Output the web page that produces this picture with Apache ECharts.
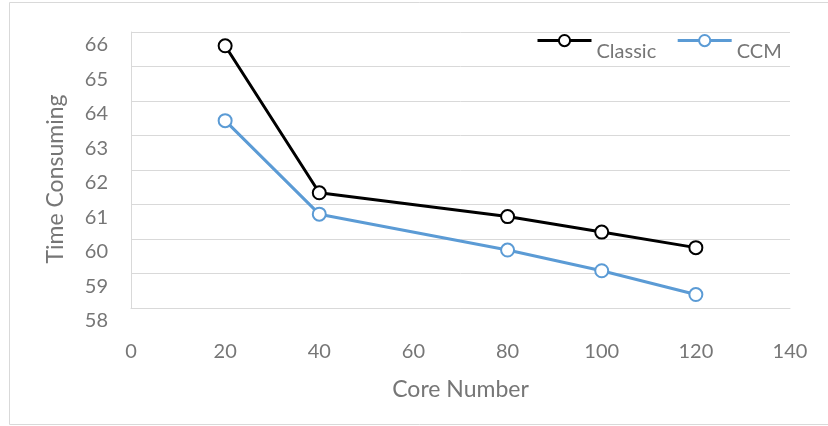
<!DOCTYPE html>
<html>
<head>
<meta charset="utf-8">
<script src="https://cdn.jsdelivr.net/npm/echarts@6/dist/echarts.min.js"></script>
<style>html,body{margin:0;padding:0;background:#fff}#c{width:828px;height:426px}</style>
</head>
<body>
<div id="c"></div>
<script>
const cores = [20, 40, 80, 100, 120];
const classic = [65.6, 61.34, 60.65, 60.2, 59.75];
const ccm = [63.43, 60.72, 59.68, 59.08, 58.39];
const seriesNames = ['Classic', 'CCM'];
const xTitle = 'Core Number';
const yTitle = 'Time Consuming';

const font = 'Lato, "Open Sans", sans-serif';
const grey = '#767676';
const chart = echarts.init(document.getElementById('c'), null, {renderer: 'canvas'});
chart.setOption({
  animation: false,
  backgroundColor: '#fff',
  graphic: [{
    type: 'rect', z: -1,
    shape: {x: 9.5, y: 2.5, width: 830, height: 422},
    style: {fill: 'none', stroke: '#d9d9d9', lineWidth: 1}
  }],
  grid: {left: 131, right: 38, top: 32, bottom: 118},
  legend: {
    left: 536, top: 34, padding: 0,
    itemWidth: 54, itemHeight: 14, itemGap: 20,
    lineStyle: {width: 3},
    formatter: name => '{a|' + name + '}',
    textStyle: {
      fontFamily: font, fontSize: 20, color: grey,
      rich: {a: {fontFamily: font, fontSize: 20, color: grey, padding: [22, 0, 0, 0]}}
    },
    data: seriesNames
  },
  xAxis: {
    type: 'value', min: 0, max: 140, interval: 20,
    name: xTitle, nameLocation: 'middle', nameGap: 70,
    nameTextStyle: {fontFamily: font, fontSize: 23, color: grey},
    axisLine: {show: true, lineStyle: {color: '#d9d9d9', width: 1}},
    axisTick: {show: false},
    splitLine: {show: false},
    axisLabel: {fontFamily: font, fontSize: 20, color: grey, margin: 34}
  },
  yAxis: {
    type: 'value', min: 58, max: 66, interval: 1,
    name: yTitle, nameLocation: 'middle', nameGap: 64,
    nameTextStyle: {fontFamily: font, fontSize: 23, color: grey, padding: [0, 18, 0, 0]},
    axisLine: {show: true, lineStyle: {color: '#d9d9d9', width: 1}},
    axisTick: {show: false},
    splitLine: {show: true, lineStyle: {color: '#d9d9d9', width: 1}},
    axisLabel: {
      fontFamily: font, fontSize: 20, color: grey, margin: 23,
      formatter: v => '{a|' + v + '}',
      rich: {a: {fontFamily: font, fontSize: 20, color: grey, padding: [26, 0, 0, 0]}}
    }
  },
  series: [
    {
      name: seriesNames[0], type: 'line',
      data: cores.map((c, i) => [c, classic[i]]),
      symbol: 'circle', symbolSize: 13,
      lineStyle: {color: '#000', width: 3},
      itemStyle: {color: '#fff', borderColor: '#000', borderWidth: 2}
    },
    {
      name: seriesNames[1], type: 'line',
      data: cores.map((c, i) => [c, ccm[i]]),
      symbol: 'circle', symbolSize: 13,
      lineStyle: {color: '#5B9BD5', width: 3},
      itemStyle: {color: '#fff', borderColor: '#5B9BD5', borderWidth: 2}
    }
  ]
});
</script>
</body>
</html>
